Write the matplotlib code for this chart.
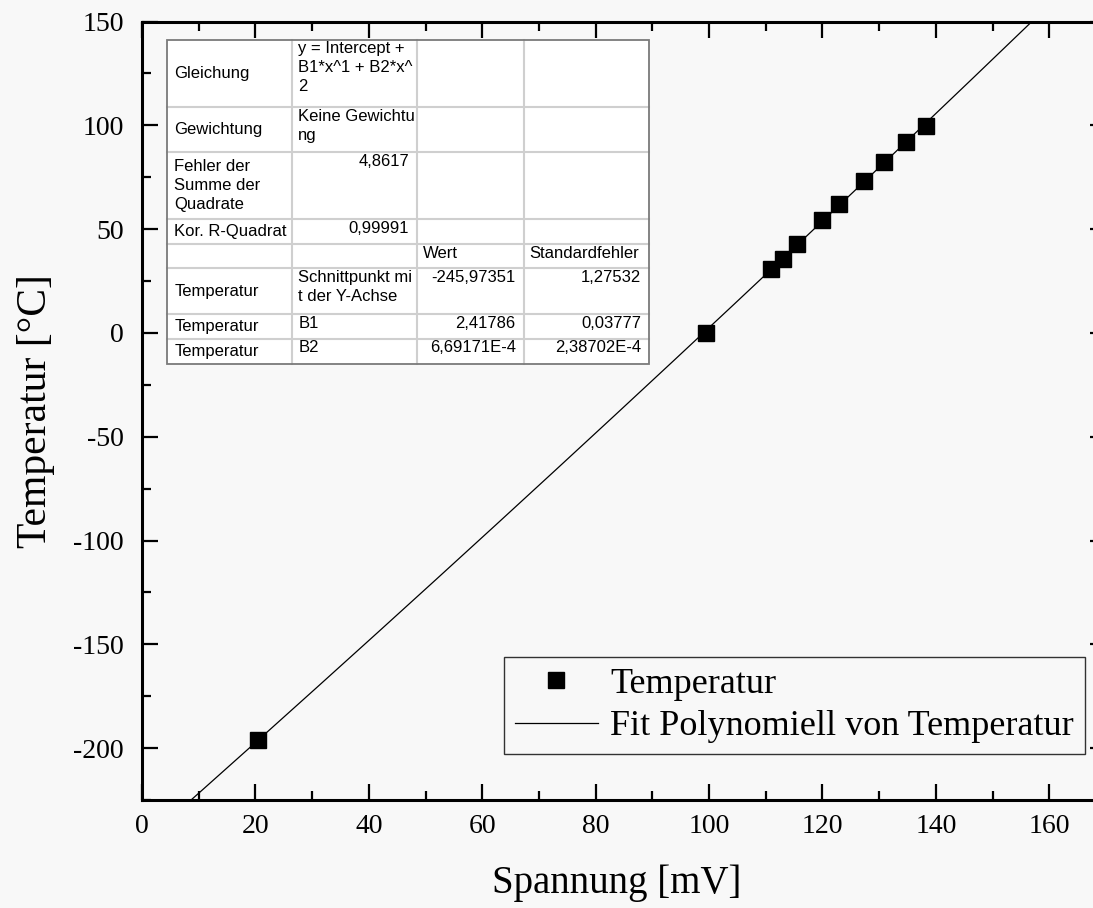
import numpy as np
import matplotlib
matplotlib.use("Agg")
import matplotlib.pyplot as plt
from matplotlib.patches import Rectangle
from matplotlib.lines import Line2D

plt.rcParams["axes.unicode_minus"] = False

# ---------------- data ----------------
spannung_mV = [20.5, 99.4, 110.9, 113.0, 115.6, 120.0, 123.0, 127.3, 130.8, 134.7, 138.3]
temperatur_C = [-196.0, 0.0, 30.7, 35.5, 42.7, 54.3, 62.1, 73.2, 82.1, 91.9, 99.6]

fit_intercept = -245.97351
fit_b1 = 2.41786
fit_b2 = 6.69171e-4

x_ticks = [0, 20, 40, 60, 80, 100, 120, 140, 160]
y_ticks = [-200, -150, -100, -50, 0, 50, 100, 150]

x_label = "Spannung [mV]"
y_label = "Temperatur [°C]"
legend_labels = ["Temperatur", "Fit Polynomiell von Temperatur"]

table_rows = [
    ["Gleichung", "y = Intercept +\nB1*x^1 + B2*x^\n2", "", ""],
    ["Gewichtung", "Keine Gewichtu\nng", "", ""],
    ["Fehler der\nSumme der\nQuadrate", "4,8617", "", ""],
    ["Kor. R-Quadrat", "0,99991", "", ""],
    ["", "", "Wert", "Standardfehler"],
    ["Temperatur", "Schnittpunkt mi\nt der Y-Achse", "-245,97351", "1,27532"],
    ["Temperatur", "B1", "2,41786", "0,03777"],
    ["Temperatur", "B2", "6,69171E-4", "2,38702E-4"],
]

# ---------------- figure ----------------
W, H = 1093, 908
DPI = 100
fig = plt.figure(figsize=(W / DPI, H / DPI), dpi=DPI)
bg = "#f8f8f8"
fig.patch.set_facecolor(bg)

# axes geometry in pixels
ax_left, ax_bottom_px, ax_top_px = 142, 800, 21.5
x_min, x_max = 0, 170
px_per_x = 5.67
ax_right = ax_left + (x_max - x_min) * px_per_x
ax_h = ax_bottom_px - ax_top_px
ax_w = ax_right - ax_left
ax = fig.add_axes([ax_left / W, (H - ax_bottom_px) / H, ax_w / W, ax_h / H])
ax.set_facecolor(bg)
ax.set_xlim(x_min, x_max)
ax.set_ylim(-225, 150)

serif = ["Liberation Serif", "DejaVu Serif"]
sans = ["Liberation Sans", "DejaVu Sans"]

# fit curve
xf = np.linspace(0, 170, 600)
yf = fit_intercept + fit_b1 * xf + fit_b2 * xf ** 2
ax.plot(xf, yf, color="black", lw=0.9, label=legend_labels[1], zorder=2)
ax.plot(spannung_mV, temperatur_C, linestyle="none", marker="s", markersize=12,
        color="black", label=legend_labels[0], zorder=3)

# ticks
ax.set_xticks(x_ticks)
ax.set_yticks(y_ticks)
ax.set_xticks(np.arange(10, 170, 20), minor=True)
ax.set_yticks(np.arange(-225, 150, 50), minor=True)
ax.tick_params(which="both", direction="in", top=True, right=True, width=1.6)
ax.tick_params(which="major", length=11.5)
ax.tick_params(which="minor", length=6.5)
ax.tick_params(axis="x", which="major", pad=10)
ax.tick_params(axis="y", which="major", pad=13)
for lbl in ax.get_xticklabels() + ax.get_yticklabels():
    lbl.set_family(serif)
    lbl.set_fontsize(20)
for side in ["left", "bottom", "top", "right"]:
    ax.spines[side].set_linewidth(2.2)

ax.set_xlabel(x_label, family=serif, fontsize=28)
ax.set_ylabel(y_label, family=serif, fontsize=30)
ax.xaxis.set_label_coords((617 - ax_left) / ax_w, -(883 - 800) / ax_h, transform=ax.transAxes)
ax.xaxis.label.set_va("center")
ax.yaxis.set_label_coords(-(142 - 36) / ax_w, 0.5, transform=ax.transAxes)
ax.yaxis.label.set_va("center")

# legend
handles = [Line2D([], [], linestyle="none", marker="s", markersize=11, color="black"),
           Line2D([], [], color="black", lw=0.9)]
leg = ax.legend(handles, legend_labels, loc="lower right",
                bbox_to_anchor=((1085 - ax_left) / ax_w, (800 - 754) / ax_h),
                borderaxespad=0, prop={"family": serif, "size": 26}, frameon=True,
                fancybox=False, edgecolor="black", facecolor="none",
                handlelength=2.3, handletextpad=0.35, labelspacing=0.25,
                borderpad=0.3)
leg.get_frame().set_linewidth(1.0)

# ---------------- table (figure pixel coordinates) ----------------
def fx(x):
    return x / W

def fy(y):
    return (H - y) / H

col_edges = [166.7, 292.3, 417.3, 523.7, 649.3]
row_edges = [40, 107.3, 152.3, 219.3, 244, 268.3, 314, 339, 364]

fig.patches.append(Rectangle((fx(col_edges[0]), fy(row_edges[-1])),
                             fx(col_edges[-1]) - fx(col_edges[0]),
                             fy(row_edges[0]) - fy(row_edges[-1]),
                             transform=fig.transFigure, facecolor="white",
                             edgecolor="none", zorder=5))
for xe in col_edges[1:-1]:
    fig.lines.append(Line2D([fx(xe), fx(xe)], [fy(row_edges[0]), fy(row_edges[-1])],
                            transform=fig.transFigure, color="#cfcfcf", lw=1.5, zorder=6))
for ye in row_edges[1:-1]:
    fig.lines.append(Line2D([fx(col_edges[0]), fx(col_edges[-1])], [fy(ye), fy(ye)],
                            transform=fig.transFigure, color="#cfcfcf", lw=1.5, zorder=6))
fig.patches.append(Rectangle((fx(col_edges[0]), fy(row_edges[-1])),
                             fx(col_edges[-1]) - fx(col_edges[0]),
                             fy(row_edges[0]) - fy(row_edges[-1]),
                             transform=fig.transFigure, facecolor="none",
                             edgecolor="#7a7a7a", lw=1.3, zorder=7))

def is_number(s):
    t = s.replace(",", "").replace("-", "").replace("E", "").replace(".", "")
    return len(s) > 0 and t.isdigit()

tfs = 12
ls = 1.33
for r, row in enumerate(table_rows):
    top, bot = row_edges[r], row_edges[r + 1]
    for c, txt in enumerate(row):
        if not txt:
            continue
        left, right = col_edges[c], col_edges[c + 1]
        if c == 0:
            fig.text(fx(left + 7.5), fy((top + bot) / 2), txt, ha="left", va="center",
                     family=sans, fontsize=tfs, linespacing=ls, zorder=8)
        elif is_number(txt):
            fig.text(fx(right - 8), fy(top + 1.5), txt, ha="right", va="top",
                     family=sans, fontsize=tfs, linespacing=ls, zorder=8)
        else:
            fig.text(fx(left + 6), fy(top + 1.5), txt, ha="left", va="top",
                     family=sans, fontsize=tfs, linespacing=ls, zorder=8)

fig.savefig("out.png", dpi=DPI, facecolor=fig.get_facecolor())
